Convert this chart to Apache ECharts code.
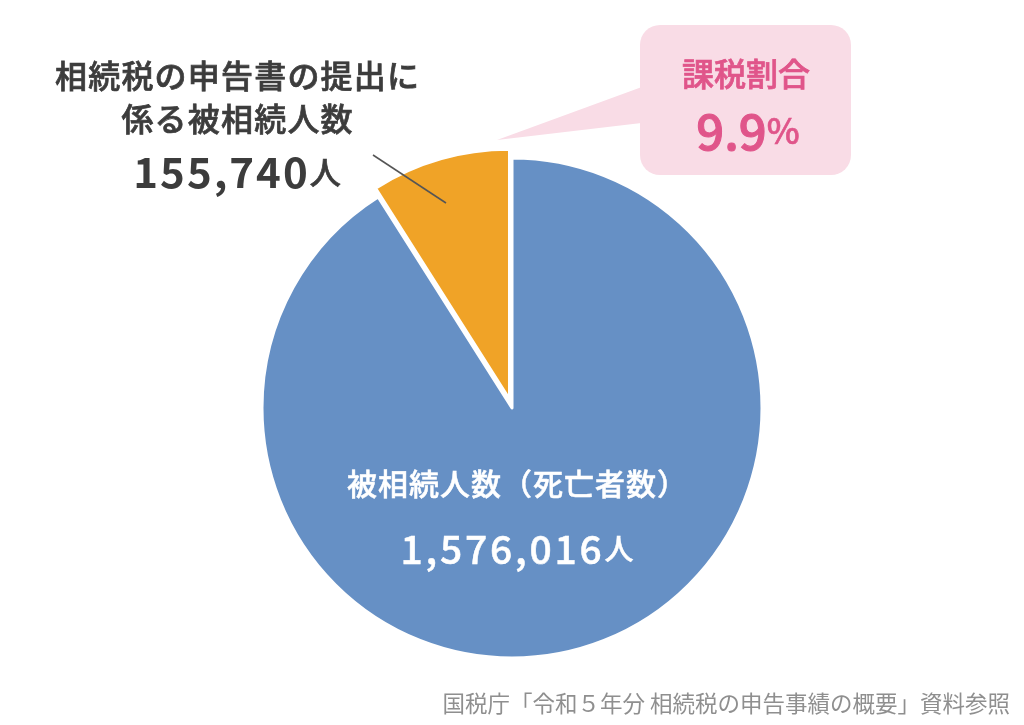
<!DOCTYPE html>
<html>
<head>
<meta charset="utf-8">
<script src="https://cdn.jsdelivr.net/npm/echarts@6/dist/echarts.min.js"></script>
<style>
html,body{margin:0;padding:0;background:#fff;}
#chart{width:1024px;height:725px;}
</style>
</head>
<body>
<div id="chart"></div>
<script>
// ---- data ----
var sliceNames = ['被相続人数（死亡者数）', '相続税の申告書の提出に\n係る被相続人数'];
var sliceValues = [1576016, 155740];
var sliceColors = ['#6690c5', '#f0a327'];
var ratioLabel = '課税割合';
var ratioValue = '9.9';
var unitLabel = '人';
var sourceText = '国税庁「令和５年分 相続税の申告事績の概要」資料参照';

var FONT = '"Noto Sans CJK JP", "Noto Sans", sans-serif';
var W = 500;

function fmt(n){ return n.toString().replace(/\B(?=(\d{3})+(?!\d))/g, ','); }
// wrap each character as its own rich token (for letter spacing)
function sp(str, style){ return str.split('').map(function(c){ return '{' + style + '|' + c + '}'; }).join(''); }

var DARK = '#3c3c3c';
// style for ECharts series labels
function st(size, lh, color, pad, weight, bw){
  return { fontFamily: FONT, fontSize: size, fontWeight: weight || W, lineHeight: lh,
           color: color, padding: [0, pad], textBorderColor: color, textBorderWidth: bw == null ? 0.7 : bw };
}
// style for graphic (zrender) rich text
function gst(size, lh, color, pad, weight, bw){
  return { fontFamily: FONT, fontSize: size, fontWeight: weight || W, lineHeight: lh,
           fill: color, padding: [0, pad], stroke: color, lineWidth: bw == null ? 0.7 : bw };
}

var chart = echarts.init(document.getElementById('chart'));

var data = sliceValues.map(function(v, i){
  return {
    value: v,
    name: sliceNames[i],
    selected: i === 1,
    itemStyle: { color: sliceColors[i] }
  };
});

// blue label inside the pie
data[0].label = {
  show: true,
  position: 'inside',
  formatter: function(p){ return sp(p.name, 'a') + '\n' + sp(fmt(p.value), 'n') + sp(unitLabel, 'u'); },
  rich: {
    a: st(30, 50, '#ffffff', 0.5, W, 0.5),
    n: st(39, 80, '#ffffff', 1.4, W, 0.5),
    u: st(29, 80, '#ffffff', 1.4, W, 0.5)
  }
};
data[1].label = { show: false };

var orangeText = sliceNames[1].split('\n').map(function(s){ return sp(s, 'a'); }).join('\n')
  + '\n' + sp(fmt(sliceValues[1]), 'n') + sp(unitLabel, 'u');

var option = {
  animation: false,
  backgroundColor: '#ffffff',
  series: [{
    type: 'pie',
    center: [512, 408],
    radius: [0, 250],
    startAngle: 90,
    clockwise: true,
    selectedMode: 'single',
    selectedOffset: 9,
    itemStyle: { borderColor: '#ffffff', borderWidth: 3 },
    emphasis: { disabled: true },
    labelLine: { show: false },
    data: data,
    labelLayout: function(params){
      if (params.dataIndex === 0) {
        return { x: 517, y: 459, align: 'center', verticalAlign: 'top' };
      }
    }
  }],
  graphic: [
    {
      type: 'line', z: 5,
      shape: { x1: 373, y1: 155, x2: 446, y2: 203 },
      style: { stroke: '#555555', lineWidth: 1.5 }
    },
    {
      type: 'text', z: 5,
      x: 237, y: 54,
      style: {
        text: orangeText,
        align: 'center', verticalAlign: 'top',
        rich: {
          a: gst(32, 43, DARK, 0.6),
          n: gst(42, 64, DARK, 1.0, 'bold', 0),
          u: gst(31, 64, DARK, 1.0)
        }
      }
    },
    {
      type: 'polygon', z: 1,
      shape: { points: [[497, 140], [650, 84], [650, 122]] },
      style: { fill: '#f9dce6' }
    },
    {
      type: 'rect', z: 1,
      shape: { x: 640, y: 25, width: 211, height: 150, r: 20 },
      style: { fill: '#f9dce6' }
    },
    {
      type: 'text', z: 2,
      x: 746, y: 74,
      style: {
        text: ratioLabel, fill: '#e0558a', font: W + ' 32px ' + FONT,
        stroke: '#e0558a', lineWidth: 0.7,
        align: 'center', verticalAlign: 'middle'
      }
    },
    {
      type: 'text', z: 2,
      x: 748, y: 131,
      style: {
        text: '{n|' + ratioValue + '}{p|%}',
        align: 'center', verticalAlign: 'middle',
        rich: {
          n: gst(49, 60, '#e0558a', 0, W, 1.0),
          p: gst(35, 60, '#e0558a', 0, W, 0.6)
        }
      }
    },
    {
      type: 'text', z: 2,
      x: 1010, y: 703,
      style: {
        text: sourceText, fill: '#8f8f8f', font: '22.5px ' + FONT,
        align: 'right', verticalAlign: 'middle'
      }
    }
  ]
};

chart.setOption(option);
</script>
</body>
</html>
